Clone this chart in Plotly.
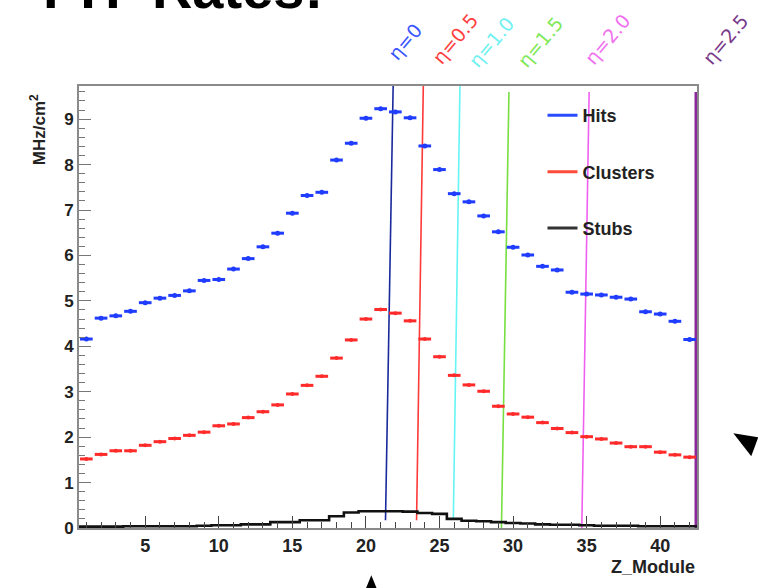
import numpy as np
import plotly.graph_objects as go

# ---------------- data ----------------
z_module = list(range(1, 43))

hits = [4.16, 4.62, 4.67, 4.77, 4.96, 5.06, 5.12, 5.22, 5.45, 5.47,
        5.70, 5.93, 6.19, 6.49, 6.93, 7.32, 7.39, 8.10, 8.47, 9.02,
        9.23, 9.16, 9.03, 8.41, 7.89, 7.36, 7.18, 6.87, 6.52, 6.18,
        6.01, 5.76, 5.68, 5.19, 5.15, 5.13, 5.08, 5.04, 4.76, 4.71,
        4.55, 4.15]

clusters = [1.52, 1.62, 1.70, 1.70, 1.82, 1.90, 1.97, 2.04, 2.11, 2.25,
            2.29, 2.43, 2.56, 2.71, 2.95, 3.14, 3.34, 3.74, 4.14, 4.60,
            4.81, 4.73, 4.56, 4.16, 3.77, 3.36, 3.15, 3.01, 2.68, 2.51,
            2.44, 2.32, 2.19, 2.10, 2.01, 1.96, 1.87, 1.79, 1.79, 1.67,
            1.61, 1.56]

stubs = [0.03, 0.03, 0.03, 0.04, 0.04, 0.04, 0.04, 0.04, 0.05, 0.06,
         0.06, 0.08, 0.08, 0.13, 0.13, 0.17, 0.17, 0.26, 0.34, 0.37,
         0.37, 0.37, 0.36, 0.33, 0.31, 0.20, 0.16, 0.15, 0.13, 0.11,
         0.10, 0.08, 0.07, 0.07, 0.06, 0.05, 0.05, 0.05, 0.04, 0.04,
         0.04, 0.04]

eta_labels = ["η=0", "η=0.5", "η=1.0", "η=1.5", "η=2.0", "η=2.5"]
eta_x_bottom = [21.33, 23.44, 25.94, 29.21, 34.67, 42.45]
eta_x_top = [21.85, 23.90, 26.39, 29.72, 35.17, 42.45]
eta_y_bottom = [0.17, 0.17, 0.19, 0.0, 0.0, 0.0]
eta_y_top = [9.73, 9.73, 9.73, 9.60, 9.60, 9.60]

x_ticks = [5, 10, 15, 20, 25, 30, 35, 40]
y_ticks = [0, 1, 2, 3, 4, 5, 6, 7, 8, 9]

# ---------------- styles ----------------
eta_line_colors = ["#1a2a9a", "#ff3a3a", "#66f5f5", "#77e040", "#f060f0", "#8a2a9a"]
eta_text_colors = ["#3a55ff", "#ff4040", "#70f0f0", "#80e858", "#f070f0", "#7a3a8a"]
eta_widths = [1.6, 1.6, 1.6, 1.6, 1.6, 3.5]
# label centres (paper x, paper y)
eta_label_x = [0.527, 0.608, 0.667, 0.746, 0.855, 1.046]
eta_label_y = [1.10, 1.107, 1.10, 1.10, 1.107, 1.107]

HITS_C = "#1f3cff"
CLUS_C = "#ff2a2a"
STUB_C = "#111111"
FONT = "Liberation Sans"

fig = go.Figure()

# eta lines
for i, lab in enumerate(eta_labels):
    fig.add_trace(go.Scatter(
        x=[eta_x_bottom[i], eta_x_top[i]], y=[eta_y_bottom[i], eta_y_top[i]],
        mode="lines", line=dict(color=eta_line_colors[i], width=eta_widths[i]),
        showlegend=False, hoverinfo="skip", cliponaxis=True))

# hits
fig.add_trace(go.Scatter(
    x=z_module, y=hits, mode="markers",
    marker=dict(color=HITS_C, size=5, symbol="circle"),
    error_x=dict(type="constant", value=0.43, color=HITS_C, thickness=3, width=0),
    showlegend=False))

# clusters
fig.add_trace(go.Scatter(
    x=z_module, y=clusters, mode="markers",
    marker=dict(color=CLUS_C, size=4, symbol="circle"),
    error_x=dict(type="constant", value=0.43, color=CLUS_C, thickness=3, width=0),
    showlegend=False))

# stubs as histogram step
edges = np.arange(0.5, len(stubs) + 1.0, 1.0)
fig.add_trace(go.Scatter(
    x=edges, y=list(stubs) + [stubs[-1]], mode="lines",
    line=dict(color=STUB_C, width=2.6, shape="hv"),
    showlegend=False))

# legend-only entries
for name, col, grp in [("Hits", "#2a4cff", "a"), ("Clusters", "#ff4a3a", "b"), ("Stubs", "#333333", "c")]:
    fig.add_trace(go.Scatter(x=[None], y=[None], mode="lines", name=name,
                             line=dict(color=col, width=3), legendgroup=grp))

annotations = []
for i, lab in enumerate(eta_labels):
    annotations.append(dict(
        text=lab, x=eta_label_x[i], xref="paper", y=eta_label_y[i], yref="paper",
        xanchor="center", yanchor="middle", textangle=-50, showarrow=False,
        font=dict(family="DejaVu Sans", size=19, color=eta_text_colors[i])))

annotations += [
    dict(text="MHz/cm<sup>2</sup>", x=0, xref="paper", xshift=-41, y=0.985, yref="paper",
         xanchor="center", yanchor="top", textangle=-90, showarrow=False,
         font=dict(family=FONT, size=17, color="#222", weight="bold")),
    dict(text="Z_Module", x=1.0, xref="paper", y=-0.062, yref="paper",
         xanchor="right", yanchor="top", showarrow=False,
         font=dict(family=FONT, size=18, color="#222", weight="bold")),
    dict(text="PH  Rates:", x=-0.062, xref="paper", y=1.145, yref="paper",
         xanchor="left", yanchor="bottom", showarrow=False,
         font=dict(family=FONT, size=56, color="#000", weight="bold")),
]

shapes = [
    dict(type="path", xref="paper", yref="paper",
         path="M 1.0588 0.2144 L 1.0992 0.2053 L 1.0878 0.1623 Z",
         fillcolor="black", line=dict(width=0)),
    dict(type="path", xref="paper", yref="paper",
         path="M 0.473 -0.107 L 0.4633 -0.14 L 0.4827 -0.14 Z",
         fillcolor="black", line=dict(width=0)),
]

fig.update_layout(
    width=758, height=588,
    margin=dict(l=79, r=61, t=86, b=60),
    paper_bgcolor="white", plot_bgcolor="white",
    annotations=annotations, shapes=shapes,
    legend=dict(x=0.75, y=0.975, xanchor="left", yanchor="top",
                bgcolor="rgba(0,0,0,0)", tracegroupgap=30, itemwidth=30,
                font=dict(family=FONT, size=18, color="#222", weight="bold")),
    xaxis=dict(range=[0.5, 42.5], tickvals=x_ticks, ticktext=[str(v) for v in x_ticks],
               ticks="inside", ticklen=12, tickwidth=1.2, tickcolor="#444",
               minor=dict(dtick=1, ticks="inside", ticklen=6, tickcolor="#444", tickwidth=1),
               showgrid=False, zeroline=False, showline=True, mirror=True,
               linecolor="#8a8a8a", linewidth=2,
               tickfont=dict(family=FONT, size=18, color="#222", weight="bold")),
    yaxis=dict(range=[0, 9.73], tickvals=y_ticks, ticktext=[str(v) for v in y_ticks],
               ticks="inside", ticklen=12, tickwidth=1.2, tickcolor="#777",
               minor=dict(dtick=0.2, ticks="inside", ticklen=6, tickcolor="#777", tickwidth=1),
               showgrid=False, zeroline=False, showline=True, mirror=True,
               linecolor="#8a8a8a", linewidth=2,
               tickfont=dict(family=FONT, size=17, color="#222", weight="bold")),
    showlegend=True,
)

fig.write_html("out.html")
